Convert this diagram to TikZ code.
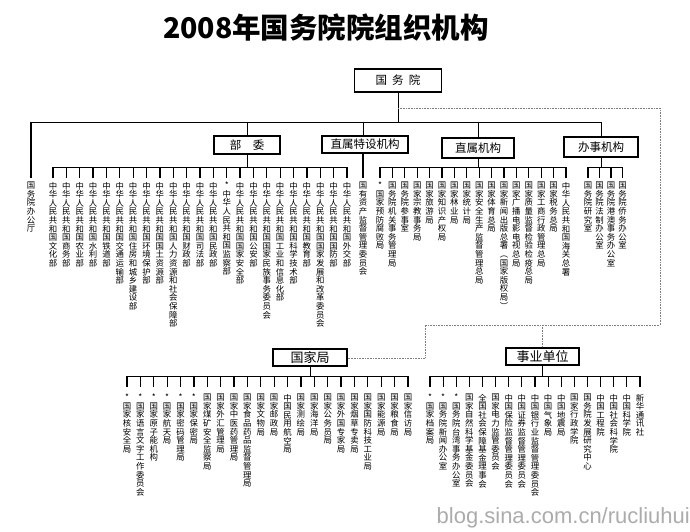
\documentclass[tikz,border=0pt]{standalone}
\usepackage{fontspec}
\setmainfont{Noto Sans CJK SC}
\newfontfamily\wmfont{Liberation Sans}
\makeatletter
\def\vc@end{\vc@end}
\def\vc@loop#1{\ifx#1\vc@end\else\hbox to 9pt{\hss#1\hss}\expandafter\vc@loop\fi}
\newcommand\vcol[1]{\edef\vc@list{#1}\vtop{\baselineskip=8.6pt\lineskiplimit=-20pt\lineskip=0pt\expandafter\vc@loop\vc@list\vc@end}}
\makeatother
\tikzset{
  col/.style={anchor=north, inner sep=0pt, outer xsep=0pt, outer ysep=4pt, font=\fontsize{8.4}{8.6}\selectfont},
  colb/.style={col, outer ysep=7pt},
  lbl/.style={draw, line width=1.2pt, fill=white, inner sep=0pt, font=\fontsize{11.5}{12}\selectfont},
  lblb/.style={lbl, font=\fontsize{13}{14}\selectfont},
  ln/.style={line width=0.9pt},
  tk/.style={line width=1.2pt},
  dotln/.style={densely dotted, line width=0.6pt, gray}
}
\begin{document}
\begin{tikzpicture}[x=1pt,y=-1pt]
\path[use as bounding box, fill=white] (0,0) rectangle (690,532);
\node[font=\fontsize{28.5}{30}\selectfont\bfseries, inner sep=0pt] (title) at (326,28) {2008年国务院院组织机构};

% top level
\node[lbl, minimum width=87pt, minimum height=23pt] (gwy) at (398,80.5) {国\hspace{0.45em}务\hspace{0.45em}院};
\coordinate (mainbar) at (398,122);
\node[lbl, minimum width=66pt, minimum height=18pt] (bw) at (247,145) {部\hspace{1em}委};
\node[lbl, minimum width=86pt, minimum height=17pt] (zstop) at (365,144.5) {直属特设机构};
\node[lbl, minimum width=72pt, minimum height=20pt] (zsjg) at (478,148) {直属机构};
\node[lbl, minimum width=74pt, minimum height=20pt] (bsjg) at (601,147) {办事机构};

\node[col] (ban) at (31,178) {\vcol{国务院办公厅}};

% ministries
\foreach \t [count=\i] in {中华人民共和国文化部,中华人民共和国商务部,中华人民共和国农业部,中华人民共和国水利部,中华人民共和国铁道部,中华人民共和国交通运输部,中华人民共和国住房和城乡建设部,中华人民共和国环境保护部,中华人民共和国国土资源部,中华人民共和国人力资源和社会保障部,中华人民共和国财政部,中华人民共和国司法部,中华人民共和国民政部,*中华人民共和国监察部,中华人民共和国国家安全部,中华人民共和国公安部,中华人民共和国国家民族事务委员会,中华人民共和国工业和信息化部,中华人民共和国科学技术部,中华人民共和国教育部,中华人民共和国国家发展和改革委员会,中华人民共和国国防部,中华人民共和国外交部}
  \node[col] (bw\i) at ({53+(\i-1)*13.364},178) {\vcol{\t}};

\node[col] (zs1) at (363,178) {\vcol{国有资产监督管理委员会}};

\foreach \t [count=\i] in {*国家预防腐败局,国务院机关事务管理局,国务院参事室,国家宗教事务局,国家旅游局,国家知识产权局,国家林业局,国家统计局,国家安全生产监督管理总局,国家体育总局,国家新闻出版总署︵国家版权局︶,国家广播电影电视总局,国家质量监督检验检疫总局,国家工商行政管理总局,国家税务总局,中华人民共和国海关总署}
  \node[col] (zj\i) at ({380+(\i-1)*12.4},178) {\vcol{\t}};

\foreach \t [count=\i] in {国务院研究室,国务院法制办公室,国务院港澳事务办公室,国务院侨务办公室}
  \node[col] (bs\i) at ({588+(\i-1)*11.5},178) {\vcol{\t}};

% connectors top
\draw[ln] (gwy.south) -- (mainbar);
\draw[ln] (ban.north |- mainbar) -- (bsjg.north |- mainbar);
\draw[tk] (ban.north |- mainbar) -- (ban.north);
\draw[ln] (bw.north |- mainbar) -- (bw.north);
\draw[ln] (zs1.north |- mainbar) -- (zs1.north |- zstop.north);
\draw[ln] (zsjg.north |- mainbar) -- (zsjg.north);
\draw[ln] (bsjg.north |- mainbar) -- (bsjg.north);

\coordinate (bwbar) at (247,167);
\draw[ln] (bw.south) -- (bwbar);
\draw[ln] (bw1.north |- bwbar) -- (bw23.north |- bwbar);
\foreach \i in {1,...,23} \draw[tk] (bw\i.north |- bwbar) -- (bw\i.north);

\draw[tk] (zs1.north |- zstop.south) -- (zs1.north);

\coordinate (zjbar) at (478,167);
\draw[ln] (zsjg.south) -- (zjbar);
\draw[ln] (zj1.north |- zjbar) -- (zj16.north |- zjbar);
\foreach \i in {1,...,16} \draw[tk] (zj\i.north |- zjbar) -- (zj\i.north);

\coordinate (bsbar) at (601,167);
\draw[ln] (bsjg.south) -- (bsbar);
\draw[ln] (bs1.north |- bsbar) -- (bs4.north |- bsbar);
\foreach \i in {1,...,4} \draw[tk] (bs\i.north |- bsbar) -- (bs\i.north);

% lower level
\node[lblb, minimum width=74pt, minimum height=17pt] (gjj) at (310,357.5) {国家局};
\node[lblb, minimum width=73pt, minimum height=17pt] (syd) at (542.5,356.5) {事业单位};

\foreach \t [count=\i] in {*国家核安全局,*国家语言文字工作委员会,*国家原子能机构,*国家航天局,*国家密码管理局,*国家保密局,国家煤矿安全监察局,国家外汇管理局,国家中医药管理局,国家食品药品监督管理局,国家文物局,国家邮政局,中国民用航空局,国家测绘局,国家海洋局,国家公务员局,国家外国专家局,国家烟草专卖局,国家国防科技工业局,国家能源局,国家粮食局,国家信访局}
  \node[colb] (gj\i) at ({127+(\i-1)*13.38},387) {\vcol{\t}};

\foreach \t [count=\i] in {*国家档案局,*国务院新闻办公室,*国务院台湾事务办公室,国家自然科学基金委员会,全国社会保障基金理事会,国家电力监管委员会,中国保险监督管理委员会,中国证券监督管理委员会,中国银行业监督管理委员会,中国气象局,中国地震局,国家行政学院,国务院发展研究中心,中国工程院,中国社会科学院,中国科学院,新华通讯社}
  \node[colb] (sy\i) at ({430+(\i-1)*13.125},387) {\vcol{\t}};

\coordinate (gjbar) at (310,376);
\draw[ln] (gjj.south) -- (gjbar);
\draw[ln] (gj1.north |- gjbar) -- (gj22.north |- gjbar);
\foreach \i in {1,...,22} \draw[tk] (gj\i.north |- gjbar) -- (gj\i.north);

\coordinate (sybar) at (542.5,376);
\draw[ln] (syd.south) -- (sybar);
\draw[ln] (sy1.north |- sybar) -- (sy17.north |- sybar);
\foreach \i in {1,...,17} \draw[tk] (sy\i.north |- sybar) -- (sy\i.north);

% dotted links
\coordinate (d1) at (398,108);
\coordinate (d2) at (660,108);
\coordinate (d3) at (660,325);
\coordinate (d4) at (425,325);
\coordinate (d5) at (425,358);
\draw[dotln] (d1) -- (d2) -- (d3) -- (d4) -- (d5) -- (gjj.east |- d5);
\draw[dotln] (syd.north |- d3) -- (syd.north);

% watermark
\node[anchor=base east, inner sep=0pt, font=\wmfont\fontsize{22}{24}\selectfont, text=gray!65] (wm) at (690,523) {blog.sina.com.cn/rucliuhui};
\end{tikzpicture}
\end{document}
